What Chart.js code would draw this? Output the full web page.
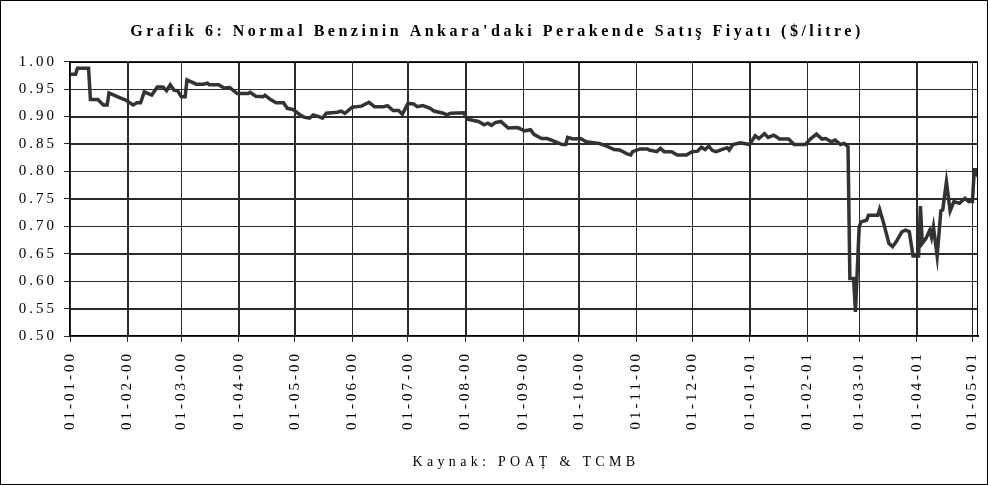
<!DOCTYPE html>
<html>
<head>
<meta charset="utf-8">
<script src="https://cdn.jsdelivr.net/npm/chart.js@4/dist/chart.umd.min.js"></script>
<style>
    body { margin: 0; background: #fff; }
    #wrap { width: 988px; height: 485px; box-sizing: border-box; border: 1px solid #000; background: #fff; }
    canvas { display: block; }
</style>
</head>
<body>
<div id="wrap"><canvas id="chart" width="986" height="483"></canvas></div>
<script>
// Başlık ve kaynak
const chartTitle = "Grafik 6: Normal Benzinin Ankara'daki Perakende Satış Fiyatı ($/litre)";
const sourceText = 'Kaynak: POAȚ & TCMB';

// Ay başları (01-01-00 = gün 0)
const monthDays = [0, 31, 60, 91, 121, 152, 182, 213, 244, 274, 305, 335, 366, 397, 425, 456, 486];
const monthLabels = ['01-01-00', '01-02-00', '01-03-00', '01-04-00', '01-05-00', '01-06-00', '01-07-00', '01-08-00',
    '01-09-00', '01-10-00', '01-11-00', '01-12-00', '01-01-01', '01-02-01', '01-03-01', '01-04-01', '01-05-01'];

// Gün ve fiyat ($/litre)
const days = [0, 3, 4, 10, 11, 15, 18, 20, 21, 27, 30, 34, 36, 38, 40, 44, 47, 50, 52, 54, 56, 58, 60, 62,
    63, 68, 72, 74, 75, 80, 83, 86, 90, 96, 97, 100, 104, 105, 108, 111, 115, 117, 120, 124, 126, 129, 131,
    134, 136, 138, 144, 146, 148, 152, 157, 161, 164, 169, 171, 174, 177, 179, 182, 185, 187, 190, 194, 196,
    201, 203, 205, 212, 214, 220, 223, 225, 227, 229, 232, 236, 241, 245, 248, 250, 254, 257, 260, 265, 267,
    268, 271, 275, 278, 283, 285, 289, 293, 296, 300, 302, 303, 307, 311, 312, 316, 318, 320, 324, 327, 332,
    335, 338, 340, 342, 344, 346, 348, 352, 354, 355, 357, 361, 366, 369, 371, 374, 376, 379, 381, 382, 387,
    390, 396, 399, 402, 405, 407, 410, 412, 415, 417, 419, 420, 422, 423, 425, 426, 429, 430, 435, 436, 438,
    441, 443, 445, 448, 450, 452, 454, 457, 458, 459, 461, 463, 464, 465, 467, 469, 470, 472, 474, 476, 479,
    482, 484, 486, 487, 488, 489];
const prices = [0.977, 0.977, 0.988, 0.988, 0.931, 0.931, 0.921, 0.921, 0.943, 0.934, 0.930, 0.921, 0.925, 0.925,
    0.945, 0.939, 0.954, 0.954, 0.947, 0.958, 0.948, 0.947, 0.936, 0.936,
    0.967, 0.959, 0.959, 0.961, 0.958, 0.958, 0.952, 0.953, 0.942, 0.942, 0.944, 0.937, 0.936, 0.939, 0.931,
    0.925, 0.925, 0.915, 0.913, 0.903, 0.899, 0.897, 0.903,
    0.900, 0.897, 0.906, 0.908, 0.910, 0.906, 0.917, 0.919, 0.926, 0.918, 0.918, 0.920, 0.911, 0.911, 0.904,
    0.924, 0.923, 0.918, 0.920, 0.915, 0.910,
    0.906, 0.903, 0.906, 0.907, 0.895, 0.891, 0.885, 0.888, 0.884, 0.889, 0.891, 0.879, 0.880, 0.874, 0.876,
    0.867, 0.860, 0.860, 0.856, 0.849, 0.849,
    0.862, 0.859, 0.860, 0.854, 0.852, 0.851, 0.846, 0.840, 0.839, 0.832, 0.830, 0.836, 0.841, 0.841, 0.839,
    0.836, 0.842, 0.836, 0.836, 0.830, 0.830,
    0.836, 0.837, 0.844, 0.840, 0.846, 0.838, 0.836, 0.841, 0.843, 0.839, 0.849, 0.852, 0.849, 0.865, 0.860,
    0.869, 0.862, 0.866, 0.862, 0.859, 0.859,
    0.849, 0.849, 0.860, 0.868, 0.859, 0.860, 0.854, 0.857, 0.849, 0.851, 0.845, 0.605, 0.605, 0.544, 0.699,
    0.708, 0.711, 0.720, 0.720, 0.731, 0.708,
    0.669, 0.663, 0.672, 0.690, 0.693, 0.690, 0.646, 0.646, 0.737, 0.669, 0.678, 0.693, 0.680, 0.699, 0.646,
    0.728, 0.730, 0.781, 0.728, 0.745, 0.742,
    0.751, 0.745, 0.745, 0.803, 0.803, 0.790];

// Y ekseni
const yMin = 0.50;
const yMax = 1.00;
const yStep = 0.05;

const points = days.map((d, i) => ({ x: d, y: prices[i] }));

// Eksen yazılarında harf aralığı
const spacingPlugin = {
    id: 'spacing',
    beforeLayout(chart) { chart.ctx.letterSpacing = '3px'; },
    beforeDraw(chart) { chart.ctx.letterSpacing = '3px'; }
};

// Izgara, çerçeve, başlık ve kaynak yazısı (en son çizilir)
const framePlugin = {
    id: 'frame',
    afterDraw(chart) {
        const a = chart.chartArea;
        const ctx = chart.ctx;
        const xs = chart.scales.x;
        const ys = chart.scales.y;
        const top = Math.round(a.top);
        const bottom = Math.round(a.bottom);
        const left = Math.round(a.left);
        const right = Math.round(a.right);
        ctx.save();
        ctx.globalCompositeOperation = 'source-over';
        ctx.globalAlpha = 1;
        ctx.fillStyle = '#2b2b2b';
        for (const d of monthDays) {
            const px = Math.round(xs.getPixelForValue(d));
            ctx.fillRect(px, top, 1, bottom - top);
        }
        for (const t of ys.ticks) {
            const py = Math.round(ys.getPixelForValue(t.value));
            ctx.fillRect(left, py, right - left, 1);
        }
        ctx.fillStyle = '#000';
        ctx.fillRect(right - 1, top, 1, bottom - top);
        ctx.fillRect(left, top, right - left, 1);

        ctx.textAlign = 'center';
        ctx.textBaseline = 'middle';
        ctx.font = 'bold 16px "Liberation Serif"';
        ctx.letterSpacing = '3.5px';
        ctx.fillText(chartTitle, chart.width / 2 + 3, 31);
        ctx.font = '14px "Liberation Serif"';
        ctx.letterSpacing = '4.3px';
        ctx.fillText(sourceText, (a.left + a.right) / 2 + 2, 461);
        ctx.restore();
    }
};

new Chart(document.getElementById('chart'), {
    type: 'line',
    data: {
        datasets: [{
            data: points,
            borderColor: '#333333',
            borderWidth: 3.5,
            pointRadius: 0,
            tension: 0,
            fill: false
        }]
    },
    options: {
        responsive: false,
        animation: false,
        layout: { padding: { left: 0, right: 9, top: 60.7, bottom: 48 } },
        plugins: {
            legend: { display: false },
            tooltip: { enabled: false },
            title: { display: false }
        },
        scales: {
            x: {
                type: 'linear',
                min: 0,
                max: 489,
                afterBuildTicks: (scale) => {
                    scale.ticks = monthDays.map(d => ({ value: d }));
                },
                afterFit: (scale) => {
                    scale.height = 100;
                    scale.paddingLeft = 0;
                    scale.paddingRight = 0;
                },
                ticks: {
                    autoSkip: false,
                    minRotation: 90,
                    maxRotation: 90,
                    padding: 9,
                    color: '#000',
                    font: { family: 'Liberation Serif', size: 15 },
                    callback: (v) => monthLabels[monthDays.indexOf(v)]
                },
                grid: { drawOnChartArea: true, color: '#2b2b2b', lineWidth: 1, tickLength: 6 },
                border: { display: true, color: '#000', width: 2 }
            },
            y: {
                min: yMin,
                max: yMax,
                afterFit: (scale) => { scale.width = 69; },
                ticks: {
                    stepSize: yStep,
                    padding: 7,
                    color: '#000',
                    font: { family: 'Liberation Serif', size: 15 },
                    callback: (v) => v.toFixed(2)
                },
                grid: { drawOnChartArea: true, color: '#2b2b2b', lineWidth: 1, tickLength: 6 },
                border: { display: true, color: '#000', width: 2 }
            }
        }
    },
    plugins: [spacingPlugin, framePlugin]
});
</script>
</body>
</html>
